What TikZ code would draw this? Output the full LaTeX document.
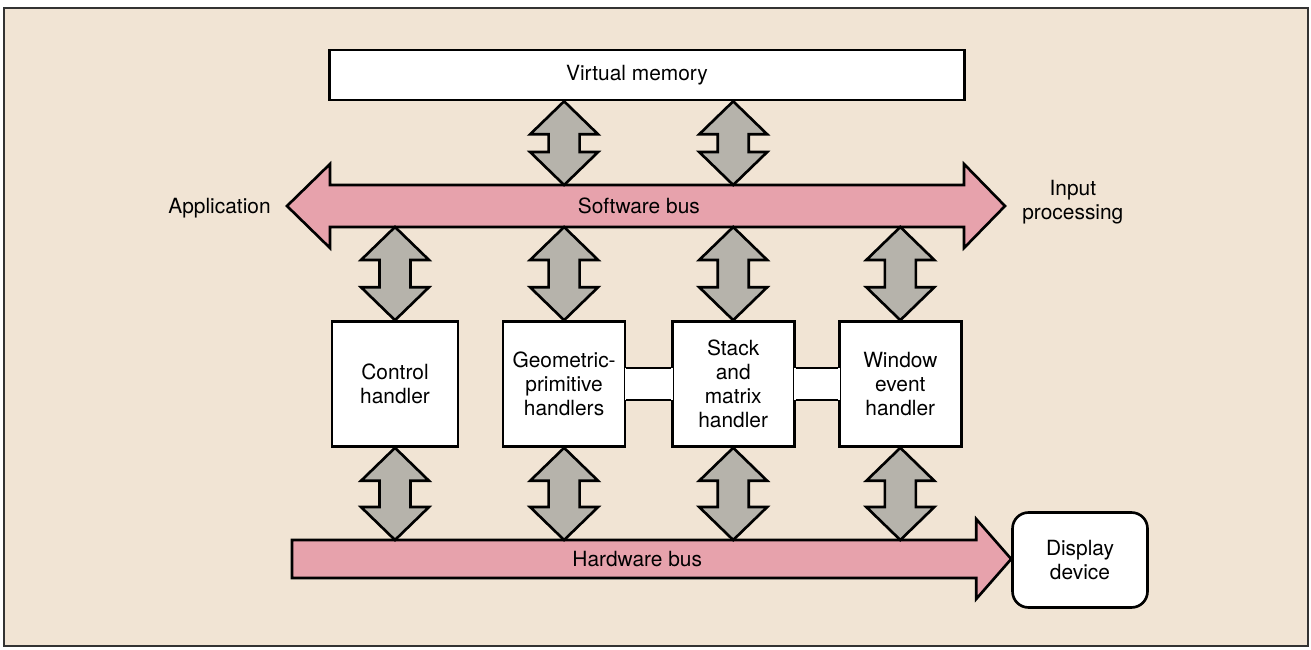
\documentclass[tikz,border=0pt]{standalone}
\usepackage{fontspec}
\setmainfont{TeX Gyre Heros}
\usetikzlibrary{positioning,calc}
\definecolor{bg}{RGB}{241,228,212}
\definecolor{buspink}{RGB}{231,162,172}
\definecolor{conngray}{RGB}{182,179,171}
\tikzset{box/.style={draw,line width=1.5pt,fill=white,minimum width=2.44cm,minimum height=2.5cm,align=center,inner sep=1pt,font=\fontsize{11.9}{13.6}\selectfont},
	bus/.style={draw,line width=1.5pt,fill=buspink,line join=miter},
	conn/.style={draw,line width=1.5pt,fill=conngray,line join=miter},
	lbl/.style={align=center,inner sep=0pt,font=\fontsize{11.9}{13.6}\selectfont}}
\def\hw{0.68cm}
\def\sw{0.31cm}
\def\hl{0.66cm}
\newcommand\vconn[2]{\path[conn] let \p1=(#1),\p2=(#2) in
	(\x1,\y1)--(\x1+\hw,\y1-\hl)--(\x1+\sw,\y1-\hl)--(\x1+\sw,\y2+\hl)--(\x1+\hw,\y2+\hl)--(\x1,\y2)
	--(\x1-\hw,\y2+\hl)--(\x1-\sw,\y2+\hl)--(\x1-\sw,\y1-\hl)--(\x1-\hw,\y1-\hl)--cycle;}
\begin{document}
\begin{tikzpicture}[x=0.02cm,y=-0.02cm]
	   	\useasboundingbox (0,0) rectangle (1311,649);
	   	\draw[line width=0.8pt,draw=black!80,fill=bg] (4,8) rectangle (1308,646);
	   	\node[box,minimum width=12.7cm,minimum height=1cm] (vm) at (647,75) {Virtual memory\hspace{0.4cm}};
	   	\node[box,minimum width=2.52cm] (ctl) at (395,384) {Control\\handler};
	   	\node[box,right=0.85cm of ctl] (geo) {Geometric-\\primitive\\handlers};
	   	\node[box,right=0.89cm of geo] (stack) {Stack\\and\\matrix\\handler};
	   	\node[box,right=0.85cm of stack] (win) {Window\\event\\handler};
	   	\node[box,minimum width=2.7cm,minimum height=1.9cm,rounded corners=0.32cm] (disp) at (1080,560) {Display\\device};
	   	\coordinate (swL) at (287,206);
	   	\coordinate (swR) at (1005,206);
	   	\coordinate (hwL) at (292,559);
	   	\path[bus] let \p1=(swL),\p2=(swR) in
	   	   	(\x1,\y1)--(\x1+0.86cm,\y1+0.84cm)--(\x1+0.86cm,\y1+0.42cm)--(\x2-0.82cm,\y1+0.42cm)--(\x2-0.82cm,\y1+0.84cm)--(\x2,\y1)
	   	   	--(\x2-0.82cm,\y1-0.84cm)--(\x2-0.82cm,\y1-0.42cm)--(\x1+0.86cm,\y1-0.42cm)--(\x1+0.86cm,\y1-0.84cm)--cycle;
	   	\path[bus] let \p1=(hwL),\p2=(disp.west) in
	   	   	(\x1,\y1+0.38cm)--(\x2-0.7cm,\y1+0.38cm)--(\x2-0.7cm,\y1+0.8cm)--(\x2,\y1)--(\x2-0.7cm,\y1-0.8cm)
	   	   	--(\x2-0.7cm,\y1-0.38cm)--(\x1,\y1-0.38cm)--cycle;
	   	\foreach \a/\b in {geo/stack,stack/win}{
	   	   	\fill[white] ([xshift=-1pt,yshift=0.32cm]\a.east) rectangle ([xshift=1pt,yshift=-0.32cm]\b.west);
	   	   	\draw[line width=1.5pt] ([yshift=0.32cm]\a.east)--([yshift=0.32cm]\b.west)
	   	   	   	([yshift=-0.32cm]\a.east)--([yshift=-0.32cm]\b.west);
	   	}
	   	\foreach \h in {geo,stack}{
	   	   	\path (\h.north |- vm.south) coordinate (t1) ([yshift=0.42cm]\h.north |- swL) coordinate (t2);
	   	   	\vconn{t1}{t2}
	   	}
	   	\foreach \h in {ctl,geo,stack,win}{
	   	   	\path ([yshift=-0.42cm]\h.north |- swL) coordinate (u1) ([yshift=0.38cm]\h.south |- hwL) coordinate (u2)
	   	   	   	(\h.north) coordinate (u3) (\h.south) coordinate (u4);
	   	   	\vconn{u1}{u3}
	   	   	\vconn{u4}{u2}
	   	}
	   	\node[lbl] (swtxt) at ($(swL)!0.49!(swR)$) {Software bus};
	   	\node[lbl] (hwtxt) at ($(hwL)!0.48!(disp.west)$) {Hardware bus};
	   	\node[lbl,left=0.32cm of swL,yshift=-0.05cm] (app) {Application};
	   	\node[lbl,right=0.34cm of swR,yshift=0.08cm] (inp) {Input\\processing};
	   \end{tikzpicture}
\end{document}
